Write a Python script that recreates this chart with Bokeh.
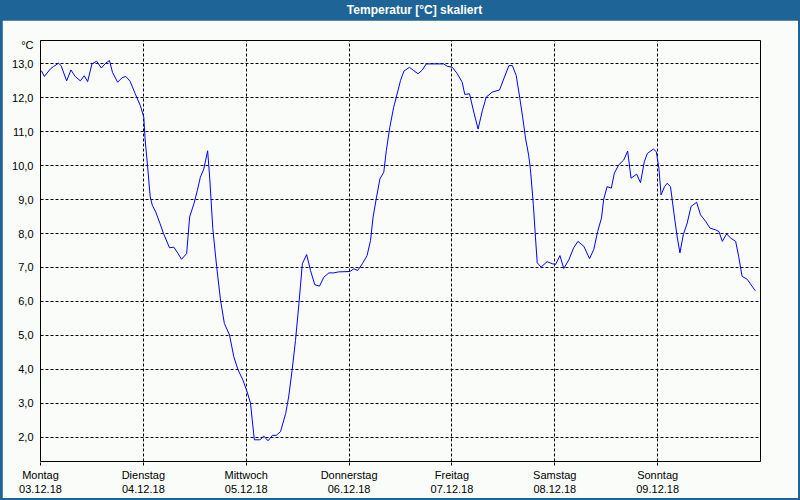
from bokeh.plotting import figure
from bokeh.models import Range1d, FixedTicker, Div
from bokeh.layouts import column
from bokeh.embed import file_html
from bokeh.resources import INLINE

TITLE = "Temperatur [°C] skaliert"
UNIT = "°C"
day_ticks = [0, 24, 48, 72, 96, 120, 144]
day_names = ["Montag", "Dienstag", "Mittwoch", "Donnerstag", "Freitag", "Samstag", "Sonntag"]
day_dates = ["03.12.18", "04.12.18", "05.12.18", "06.12.18", "07.12.18", "08.12.18", "09.12.18"]
y_ticks = [2, 3, 4, 5, 6, 7, 8, 9, 10, 11, 12, 13]

hours = [0.2, 0.9, 2.3, 3.0, 4.2, 4.8, 6.1, 7.1, 8.1, 9.3, 10.2, 11.0, 12.0, 13.1, 14.2, 15.2,
         16.1, 16.8, 18.0, 19.0, 19.9, 20.9, 22.1, 23.3, 24.1, 24.4, 25.0, 25.6, 26.1, 26.9,
         27.9, 28.7, 30.1, 31.1, 32.1, 32.9, 34.1, 34.8, 35.8, 36.6, 37.3, 38.1, 39.0, 39.5,
         40.2, 41.1, 42.0, 42.9, 44.1, 45.1, 46.1, 47.2, 48.2, 49.0, 49.4, 49.9, 51.2, 52.1,
         53.1, 54.1, 55.0, 56.0, 57.2, 57.9, 58.7, 59.5, 60.3, 61.1, 62.1, 63.0, 64.0, 65.1,
         66.1, 67.3, 68.4, 69.6, 72.2, 73.1, 74.0, 75.1, 76.2, 77.0, 77.6, 78.4, 79.2, 80.1,
         80.7, 81.5, 82.4, 83.4, 84.0, 84.8, 86.1, 87.1, 88.1, 89.1, 90.0, 94.1, 94.9, 96.1,
         97.2, 98.4, 99.0, 100.1, 101.1, 102.1, 103.1, 104.0, 105.4, 107.1, 108.1, 109.3,
         110.1, 111.0, 111.8, 112.5, 113.2, 113.9, 114.3, 115.0, 115.5, 115.9, 116.8, 118.2,
         119.4, 120.2, 121.2, 122.1, 123.3, 124.4, 125.4, 126.8, 128.1, 129.1, 130.0, 130.9,
         131.4, 132.2, 133.2, 133.9, 134.9, 136.1, 137.0, 137.8, 139.1, 140.0, 140.9, 141.6,
         143.0, 143.7, 144.3, 144.8, 145.6, 146.2, 147.0, 147.8, 148.6, 149.2, 150.0, 150.9,
         151.8, 153.1, 154.0, 155.2, 156.2, 157.5, 158.3, 159.1, 160.1, 161.0, 162.2, 162.9,
         163.7, 164.9, 166.8]

temps = [12.80, 12.63, 12.85, 12.92, 13.02, 12.95, 12.50, 12.82, 12.63, 12.50, 12.65, 12.48,
         13.00, 13.08, 12.88, 13.02, 13.10, 12.75, 12.46, 12.59, 12.63, 12.49, 12.12, 11.77,
         11.43, 10.79, 9.96, 9.08, 8.83, 8.63, 8.29, 8.00, 7.58, 7.60, 7.41, 7.24, 7.41, 8.49,
         8.88, 9.27, 9.66, 9.90, 10.44, 9.61, 8.15, 7.03, 6.04, 5.35, 5.01, 4.37, 3.98, 3.69,
         3.34, 3.00, 2.51, 1.92, 1.92, 2.03, 1.89, 2.05, 2.05, 2.16, 2.69, 3.18, 3.96, 4.85,
         5.93, 7.11, 7.38, 6.91, 6.49, 6.45, 6.71, 6.84, 6.84, 6.87, 6.88, 6.96, 6.91, 7.11,
         7.35, 7.79, 8.48, 9.07, 9.61, 9.81, 10.45, 11.13, 11.72, 12.21, 12.51, 12.79, 12.90,
         12.80, 12.71, 12.82, 13.00, 13.00, 12.93, 12.90, 12.72, 12.46, 12.10, 12.12, 11.58,
         11.08, 11.62, 12.02, 12.17, 12.23, 12.56, 12.95, 12.95, 12.66, 12.02, 11.43, 10.79,
         10.31, 9.92, 8.85, 7.87, 7.14, 7.01, 7.17, 7.11, 7.09, 7.35, 6.97, 7.23, 7.58, 7.77,
         7.62, 7.26, 7.53, 8.06, 8.46, 9.00, 9.38, 9.34, 9.78, 10.02, 10.17, 10.43, 9.63, 9.75,
         9.50, 10.12, 10.36, 10.49, 10.41, 9.92, 9.14, 9.38, 9.48, 9.38, 8.60, 7.87, 7.43,
         7.97, 8.31, 8.80, 8.92, 8.55, 8.36, 8.16, 8.11, 8.06, 7.77, 7.99, 7.87, 7.77, 7.33,
         6.74, 6.65, 6.31]

BG = "#F9FCF9"
BAR = "#1E6496"
FONT = "Liberation Sans"
Y_MIN, Y_MAX = 1.28, 13.69
UNIT_POS = 13.56  # where the unit sits on the value axis (top-left corner)

title_div = Div(text=TITLE, width=800, height=20, margin=0,
                styles={"background-color": BAR, "color": "white", "font-weight": "bold",
                        "font-family": FONT, "font-size": "12px", "text-align": "center",
                        "line-height": "20px", "text-indent": "29px"})

p = figure(width=796, height=478, output_backend="svg", toolbar_location=None,
           x_range=Range1d(0, 168), y_range=Range1d(Y_MIN, Y_MAX),
           min_border_left=38, min_border_right=38, min_border_top=20, min_border_bottom=37,
           background_fill_color=BG, border_fill_color=BG,
           outline_line_color="black", outline_line_width=1)
p.margin = (0, 2, 2, 2)

p.line(hours, temps, line_color="#0000FF", line_width=1)

xa = p.xaxis[0]
xa.ticker = FixedTicker(ticks=day_ticks)
xa.major_label_overrides = {t: f"{n}\n{d}" for t, n, d in zip(day_ticks, day_names, day_dates)}
xa.axis_line_color = "black"
xa.major_tick_out = 4
xa.major_tick_in = 0
xa.major_tick_line_dash = "3 2"
xa.minor_tick_out = 0
xa.minor_tick_in = 0
xa.major_label_standoff = 3
xa.major_label_text_font = FONT
xa.major_label_text_font_size = "11px"
xa.major_label_text_color = "black"

ya = p.yaxis[0]
ya.ticker = FixedTicker(ticks=y_ticks + [UNIT_POS])
overrides = {v: f"{v},0" for v in y_ticks}
overrides[UNIT_POS] = UNIT
ya.major_label_overrides = overrides
ya.axis_line_color = "black"
ya.major_tick_out = 0
ya.major_tick_in = 0
ya.minor_tick_out = 0
ya.minor_tick_in = 0
ya.major_label_standoff = 7
ya.major_label_text_font = FONT
ya.major_label_text_font_size = "11px"
ya.major_label_text_color = "black"

p.xgrid[0].ticker = FixedTicker(ticks=day_ticks)
p.ygrid[0].ticker = FixedTicker(ticks=y_ticks)
for g in (p.xgrid[0], p.ygrid[0]):
    g.grid_line_color = "black"
    g.grid_line_dash = "3 2"
    g.grid_line_width = 1
    g.grid_line_alpha = 1.0

layout = column(title_div, p, spacing=0, styles={"background-color": BAR})
open("out.html", "w").write(file_html(layout, INLINE))
